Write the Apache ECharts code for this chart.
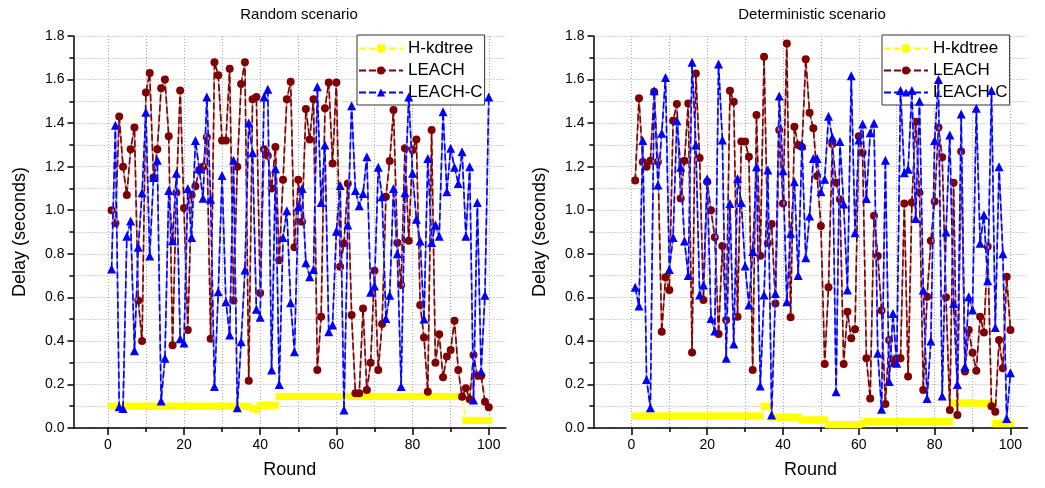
<!DOCTYPE html>
<html><head><meta charset="utf-8">
<script src="https://cdn.jsdelivr.net/npm/echarts@6/dist/echarts.min.js"></script>
<style>html,body{margin:0;padding:0;background:#fff}#c{width:1045px;height:488px}</style>
</head><body><div id="c"></div>
<script>
const rounds = Array.from({length: 100}, (_, i) => i + 1);
const xMajorTicks = [0, 20, 40, 60, 80, 100];
const xMinorTicks = [0, 10, 20, 30, 40, 50, 60, 70, 80, 90, 100];
const seriesNames = ['H-kdtree', 'LEACH', 'LEACH-C'];
const panelTitles = ['Random scenario', 'Deterministic scenario'];

const randomHkdtree = [
 0.10,0.10,0.10,0.10,0.10,0.10,0.10,0.10,0.10,0.10,
 0.10,0.10,0.10,0.10,0.10,0.10,0.10,0.10,0.10,0.10,
 0.10,0.10,0.10,0.10,0.10,0.10,0.10,0.10,0.10,0.10,
 0.10,0.10,0.10,0.10,0.10,0.10,0.10,0.09,0.085,0.105,
 0.105,0.105,0.105,0.105,0.145,0.145,0.145,0.145,0.145,0.145,
 0.145,0.145,0.145,0.145,0.145,0.145,0.145,0.145,0.145,0.145,
 0.145,0.145,0.145,0.145,0.145,0.145,0.145,0.145,0.145,0.145,
 0.145,0.145,0.145,0.145,0.145,0.145,0.145,0.145,0.145,0.145,
 0.145,0.145,0.145,0.145,0.145,0.145,0.145,0.145,0.145,0.145,
 0.145,0.145,0.145,0.035,0.035,0.035,0.035,0.035,0.035,0.035];
const randomLeach = [
 1.00,0.94,1.43,1.20,1.07,1.28,1.38,0.585,0.40,1.54,
 1.63,1.15,1.28,1.56,1.60,1.34,0.38,1.08,1.55,1.01,
 0.45,1.07,1.11,1.185,1.20,1.335,0.41,1.68,1.62,1.32,
 1.32,1.65,0.585,1.20,1.58,1.68,0.217,1.51,1.52,0.62,
 1.28,1.25,1.10,1.29,0.77,1.14,1.51,1.59,0.83,1.14,
 0.947,1.465,1.325,1.51,0.266,0.511,1.468,1.587,1.215,1.587,
 0.741,0.848,1.123,0.519,0.159,0.159,0.549,0.174,0.30,0.722,
 0.266,0.477,1.062,1.226,1.46,0.851,0.657,1.284,0.86,1.276,
 1.325,0.565,0.416,0.167,1.368,0.30,0.43,0.233,0.328,0.358,
 0.493,0.266,0.144,0.182,0.132,0.335,0.24,0.24,0.12,0.095];
const randomLeachC = [
 0.73,1.39,0.098,0.089,0.88,0.95,0.355,0.83,1.08,1.45,
 0.79,1.15,1.23,0.124,0.32,1.09,0.86,1.17,0.41,0.39,
 1.10,0.875,1.32,1.19,1.055,1.52,1.05,0.19,0.626,1.16,
 0.58,0.427,1.23,0.093,0.396,0.725,1.40,1.264,0.545,0.508,
 1.52,1.555,0.266,1.19,0.20,0.875,0.998,0.575,0.35,1.016,
 1.10,0.759,0.695,0.728,1.567,1.035,1.30,0.442,0.473,0.904,
 1.114,0.083,0.932,1.48,1.09,1.02,1.077,1.246,0.623,0.652,
 1.197,1.062,0.503,0.61,1.10,0.80,0.19,1.08,1.52,1.17,
 0.958,0.859,0.50,1.238,0.852,0.932,0.88,1.452,1.085,1.284,
 1.197,1.123,1.269,0.881,1.20,0.129,1.035,0.259,0.61,1.52];

const detHkdtree = [
 0.055,0.055,0.055,0.055,0.055,0.055,0.055,0.055,0.055,0.055,
 0.055,0.055,0.055,0.055,0.055,0.055,0.055,0.055,0.055,0.055,
 0.055,0.055,0.055,0.055,0.055,0.055,0.055,0.055,0.055,0.055,
 0.055,0.055,0.055,0.055,0.10,0.10,0.05,0.05,0.05,0.05,
 0.05,0.05,0.05,0.05,0.037,0.037,0.037,0.037,0.037,0.037,
 0.037,0.015,0.015,0.015,0.015,0.015,0.015,0.015,0.015,0.015,
 0.02,0.03,0.03,0.03,0.03,0.03,0.03,0.03,0.03,0.03,
 0.03,0.03,0.03,0.03,0.03,0.03,0.03,0.03,0.03,0.03,
 0.03,0.03,0.03,0.03,0.115,0.115,0.115,0.115,0.115,0.115,
 0.113,0.113,0.112,0.112,0.11,0.02,0.02,0.02,0.02,0.02];
const detLeach = [
 1.136,1.514,1.221,1.20,1.227,1.544,1.223,0.442,0.692,0.634,
 1.411,1.488,1.054,1.227,1.49,0.347,1.628,1.24,0.588,1.131,
 1.00,0.876,0.432,0.836,0.496,1.549,1.498,0.511,1.315,1.315,
 1.246,0.266,1.437,0.791,1.705,0.848,0.937,0.572,1.368,1.031,
 1.766,0.508,1.383,1.30,1.29,1.693,1.448,1.376,1.157,0.927,
 0.294,0.646,1.304,1.126,1.05,0.294,0.534,0.412,0.453,1.34,
 1.264,0.32,0.136,0.975,0.79,0.539,0.11,0.404,0.297,0.32,
 0.32,1.031,0.236,1.035,1.406,1.08,0.174,0.603,0.86,1.04,
 1.38,1.243,0.60,0.083,1.126,0.06,1.27,0.259,0.45,0.346,
 0.263,0.511,0.438,0.833,0.10,0.075,0.404,0.274,0.695,0.45];
const detLeachC = [
 0.646,0.56,1.32,0.223,0.093,1.549,1.116,1.353,1.61,0.728,
 0.875,1.411,1.197,0.859,0.70,1.679,1.30,0.611,0.657,1.145,
 0.503,0.445,1.671,1.322,0.32,1.031,0.386,1.146,1.035,0.744,
 0.565,0.81,1.20,0.193,0.611,1.185,0.06,0.618,1.524,1.181,
 0.58,0.894,1.131,0.70,1.30,0.782,0.973,1.238,1.238,1.085,
 1.142,1.432,1.335,0.167,1.315,1.028,0.634,1.618,0.897,1.322,
 1.396,1.054,1.356,1.399,0.343,0.086,1.23,0.213,0.526,0.297,
 1.55,1.172,1.188,1.55,0.962,1.5,0.634,0.136,0.40,1.32,
 1.6,0.147,0.9,1.345,0.572,0.2,1.442,0.282,0.603,0.542,
 1.468,0.848,0.978,0.676,1.55,0.462,1.2,0.8,0.044,0.254];

const panelData = [[randomHkdtree, randomLeach, randomLeachC], [detHkdtree, detLeach, detLeachC]];

const FONT = 'Arial, "Liberation Sans", sans-serif';
const grids = [
  {left: 73.5, top: 36, width: 432.4, height: 392},
  {left: 593.5, top: 36, width: 434, height: 392}
];
const titleCenters = [299, 812];
const legendLefts = [357, 882];
const xMins = [-9, -10];
const xMax = 104.5;

const styles = [
  {color: '#ffff00', light: '#ffff80', symbol: 'rect', size: 7, lw: 1},
  {color: '#800000', light: '#c49090', symbol: 'circle', size: 8, lw: 1.6},
  {color: '#0000ff', light: '#8c8cff', symbol: 'triangle', size: 9, lw: 1.6}
];

const option = {
  animation: false,
  backgroundColor: '#fff',
  grid: grids,
  xAxis: [], yAxis: [], series: [], legend: [], graphic: []
};

grids.forEach((g, i) => {
  option.xAxis.push({
    gridIndex: i, type: 'value', min: xMins[i], max: xMax, position: 'bottom',
    axisLine: {show: true, onZero: false, lineStyle: {color: '#000', width: 1.5}},
    axisTick: {show: true, customValues: xMajorTicks, length: 7, lineStyle: {color: '#000', width: 1.5}},
    axisLabel: {show: true, customValues: xMajorTicks, fontSize: 14, color: '#000', fontFamily: FONT, margin: 10},
    splitLine: {show: false},
    name: 'Round', nameLocation: 'middle', nameGap: 33,
    nameTextStyle: {fontSize: 18, color: '#000', fontFamily: FONT}
  });
  option.xAxis.push({
    gridIndex: i, type: 'value', min: xMins[i], max: xMax, position: 'bottom',
    axisLine: {show: false, onZero: false},
    axisTick: {show: true, customValues: xMinorTicks, length: 4, lineStyle: {color: '#000', width: 1.5}},
    axisLabel: {show: false},
    splitLine: {show: true, lineStyle: {color: '#aaa', width: 1, type: [1, 2]}}
  });
  option.yAxis.push({
    gridIndex: i, type: 'value', min: 0, max: 1.8, interval: 0.2,
    axisLine: {show: true, onZero: false, lineStyle: {color: '#000', width: 1.5}},
    axisTick: {show: true, length: 6, lineStyle: {color: '#000', width: 1.5}},
    minorTick: {show: true, splitNumber: 2, length: 4, lineStyle: {color: '#000', width: 1.5}},
    axisLabel: {fontSize: 14, color: '#000', fontFamily: FONT, margin: 9, formatter: v => v.toFixed(1)},
    splitLine: {show: true, lineStyle: {color: '#aaa', width: 1, type: [1, 2]}},
    minorSplitLine: {show: true, lineStyle: {color: '#aaa', width: 1, type: [1, 2]}},
    name: 'Delay (seconds)', nameLocation: 'middle', nameGap: 44, nameRotate: 90,
    nameTextStyle: {fontSize: 18, color: '#000', fontFamily: FONT}
  });
  seriesNames.forEach((nm, k) => {
    const st = styles[k];
    const pts = rounds.map((r, j) => [r, panelData[i][k][j]]);
    // light continuous underlay (the pale gaps between dashes in the original)
    option.series.push({
      name: nm + ' (underlay)', type: 'line', xAxisIndex: 2 * i, yAxisIndex: i,
      data: pts, symbol: 'none', silent: true,
      lineStyle: {color: st.light, width: st.lw, type: 'solid'},
      emphasis: {disabled: true}, z: 1 + 2 * k
    });
    option.series.push({
      name: nm, type: 'line', xAxisIndex: 2 * i, yAxisIndex: i,
      data: pts,
      symbol: st.symbol, symbolSize: st.size, showSymbol: true,
      lineStyle: {color: st.color, width: st.lw, type: [7, 3]},
      itemStyle: {color: st.color},
      emphasis: {disabled: true}, z: 2 + 2 * k
    });
  });
  option.legend.push({
    orient: 'vertical', left: legendLefts[i], top: 35,
    itemWidth: 44, itemHeight: 10, itemGap: 5, padding: [5, 2, 4, 1],
    backgroundColor: '#fff', borderColor: '#333', borderWidth: 1,
    textStyle: {fontSize: 17, color: '#000', fontFamily: FONT},
    data: seriesNames, selectedMode: false
  });
  option.graphic.push({
    type: 'text', x: titleCenters[i], y: 7,
    style: {text: panelTitles[i], font: '15px ' + FONT, fill: '#000', textAlign: 'center', textVerticalAlign: 'top'}
  });
});

const chart = echarts.init(document.getElementById('c'), null, {renderer: 'canvas'});
chart.setOption(option);
</script></body></html>
